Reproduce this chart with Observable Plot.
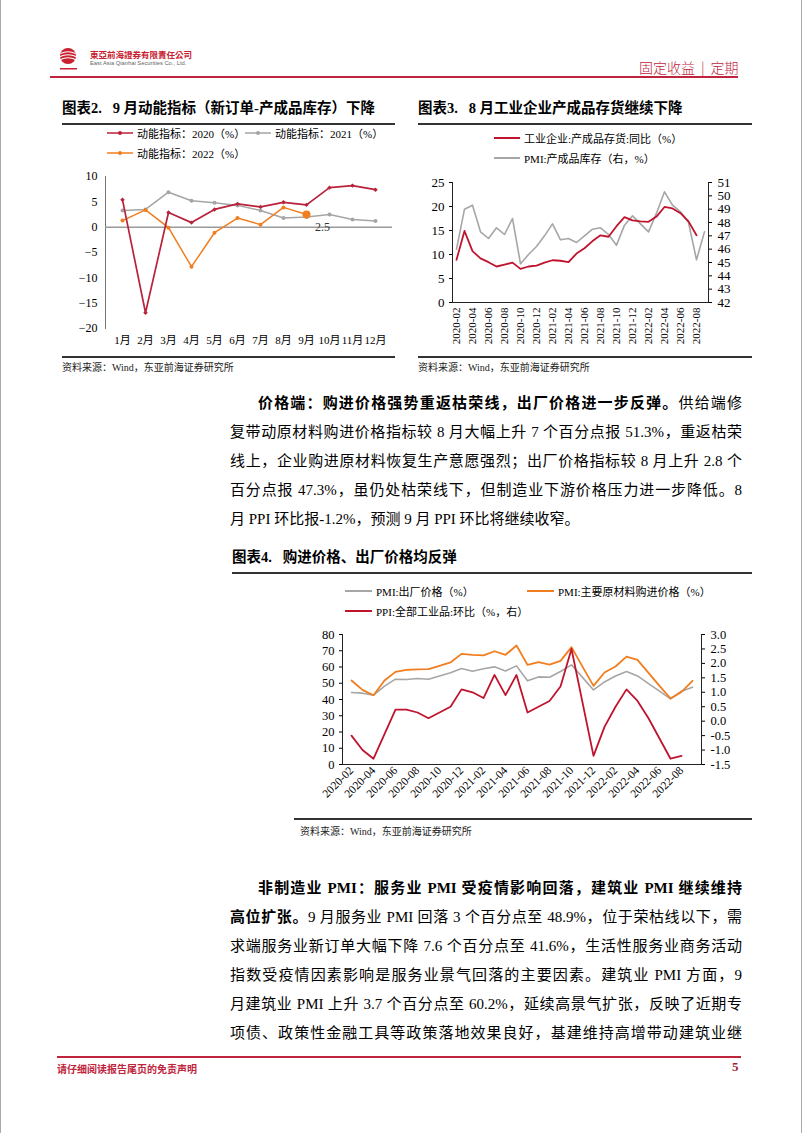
<!DOCTYPE html>
<html><head><meta charset="utf-8">
<script src="https://cdn.jsdelivr.net/npm/d3@7"></script>
<script src="https://cdn.jsdelivr.net/npm/@observablehq/plot@0.6"></script>
<style>
body{margin:0;background:#fff;}
#page{position:relative;width:802px;height:1133px;overflow:hidden;font-family:"Liberation Serif","Noto Sans CJK SC",serif;color:#000;background:#fff;}
.abs{position:absolute;}
.title{font-weight:bold;font-size:14.5px;white-space:nowrap;}
.src{font-size:10px;white-space:nowrap;color:#222;}
.leg{font-size:11px;white-space:nowrap;display:flex;align-items:center;height:14px;}
.leg svg{margin-right:3px;}
.para div{height:29px;line-height:29px;font-size:15px;text-align:justify;text-align-last:justify;}
.para div.last{text-align-last:left;}
.para b{font-weight:bold;}
.chart svg{overflow:visible;}
</style></head>
<body><div id="page">
<div class="abs" style="left:0;top:0;width:1px;height:1133px;background:#aaa"></div>
<div class="abs" style="left:801px;top:0;width:1px;height:1133px;background:#aaa"></div>
<!-- header -->
<svg class="abs" style="left:59px;top:47px" width="20" height="26" viewBox="0 0 20 26">
<circle cx="9" cy="9" r="8" fill="#c8202f"/>
<path d="M1.5 6.5 Q9 3 16.5 6.5" stroke="#fff" stroke-width="1.2" fill="none"/>
<path d="M1 9.5 Q9 6 17 9.5" stroke="#fff" stroke-width="1.2" fill="none"/>
<path d="M1.5 12.5 Q9 9 16.5 12.5" stroke="#fff" stroke-width="1.2" fill="none"/>
<rect x="1" y="21" width="17" height="1.5" fill="#c8202f"/>
</svg>
<div class="abs" style="left:90px;top:48px;font-size:8.5px;font-weight:bold;color:#c8202f;white-space:nowrap;font-family:'Noto Sans CJK TC'">東亞前海證券有限責任公司</div>
<div class="abs" style="left:90px;top:60px;font-size:5.8px;color:#666;white-space:nowrap;font-family:'Liberation Sans'">East Asia Qianhai Securities Co., Ltd.</div>
<div class="abs" style="left:639px;top:57px;font-size:14px;color:#c0243c;white-space:nowrap;font-family:'Noto Sans CJK SC';font-weight:300">固定收益<span style="margin:0 6px;color:#c0243c">|</span>定期</div>
<div class="abs" style="left:50px;top:76px;width:688px;height:1.5px;background:#c0243c"></div>

<!-- figure titles -->
<div class="abs title" style="left:62px;top:96px">图表2.&nbsp;&nbsp;&nbsp;9 月动能指标（新订单-产成品库存）下降</div>
<div class="abs" style="left:62px;top:123px;width:333px;height:1.5px;background:#333"></div>
<div class="abs title" style="left:418px;top:96px">图表3.&nbsp;&nbsp;&nbsp;8 月工业企业产成品存货继续下降</div>
<div class="abs" style="left:418px;top:123px;width:334px;height:1.5px;background:#333"></div>

<div id="c2" class="abs chart" style="left:62px;top:127px"></div>
<div id="c3" class="abs chart" style="left:418px;top:127px"></div>

<!-- legends chart 2 -->
<div class="abs leg" style="left:107px;top:126px">
<svg width="27" height="8"><line x1="0" y1="4" x2="26" y2="4" stroke="#b8223a" stroke-width="1.5"/><circle cx="13" cy="4" r="2" fill="#b8223a"/></svg>动能指标：2020（%）</div>
<div class="abs leg" style="left:245px;top:126px">
<svg width="27" height="8"><line x1="0" y1="4" x2="26" y2="4" stroke="#a5a5a5" stroke-width="1.5"/><circle cx="13" cy="4" r="2" fill="#a5a5a5"/></svg>动能指标：2021（%）</div>
<div class="abs leg" style="left:107px;top:146px">
<svg width="27" height="8"><line x1="0" y1="4" x2="26" y2="4" stroke="#f07d1e" stroke-width="1.5"/><circle cx="13" cy="4" r="2" fill="#f07d1e"/></svg>动能指标：2022（%）</div>
<!-- legends chart 3 -->
<div class="abs leg" style="left:494px;top:131px">
<svg width="27" height="8"><line x1="0" y1="4" x2="26" y2="4" stroke="#c0142e" stroke-width="2"/></svg>工业企业:产成品存货:同比（%）</div>
<div class="abs leg" style="left:494px;top:151px">
<svg width="27" height="8"><line x1="0" y1="4" x2="26" y2="4" stroke="#a6a6a6" stroke-width="2"/></svg>PMI:产成品库存（右，%）</div>

<div class="abs" style="left:62px;top:356px;width:333px;height:1.5px;background:#333"></div>
<div class="abs" style="left:418px;top:356px;width:334px;height:1.5px;background:#333"></div>
<div class="abs src" style="left:62px;top:359px">资料来源：Wind，东亚前海证券研究所</div>
<div class="abs src" style="left:418px;top:359px">资料来源：Wind，东亚前海证券研究所</div>

<div class="abs para" style="left:230px;top:389px;width:512px">
<div style="margin-left:28px"><b>价格端：购进价格强势重返枯荣线，出厂价格进一步反弹。</b>供给端修</div>
<div>复带动原材料购进价格指标较 8 月大幅上升 7 个百分点报 51.3%，重返枯荣</div>
<div>线上，企业购进原材料恢复生产意愿强烈；出厂价格指标较 8 月上升 2.8 个</div>
<div>百分点报 47.3%，虽仍处枯荣线下，但制造业下游价格压力进一步降低。8</div>
<div class="last">月 PPI 环比报-1.2%，预测 9 月 PPI 环比将继续收窄。</div>
</div>

<div class="abs title" style="left:232px;top:545px">图表4.&nbsp;&nbsp;&nbsp;购进价格、出厂价格均反弹</div>
<div class="abs" style="left:232px;top:572px;width:520px;height:1.5px;background:#333"></div>
<div id="c4" class="abs chart" style="left:232px;top:575px"></div>
<div class="abs leg" style="left:345px;top:584px">
<svg width="28" height="8"><line x1="0" y1="4" x2="27" y2="4" stroke="#a6a6a6" stroke-width="2"/></svg>PMI:出厂价格（%）</div>
<div class="abs leg" style="left:527px;top:584px">
<svg width="28" height="8"><line x1="0" y1="4" x2="27" y2="4" stroke="#f07d1e" stroke-width="2"/></svg>PMI:主要原材料购进价格（%）</div>
<div class="abs leg" style="left:345px;top:604px">
<svg width="28" height="8"><line x1="0" y1="4" x2="27" y2="4" stroke="#c0142e" stroke-width="2"/></svg>PPI:全部工业品:环比（%，右）</div>
<div class="abs" style="left:294px;top:818px;width:458px;height:1.5px;background:#333"></div>
<div class="abs src" style="left:300px;top:823px">资料来源：Wind，东亚前海证券研究所</div>

<div class="abs para" style="left:230px;top:874px;width:512px">
<div style="margin-left:28px"><b>非制造业 PMI：服务业 PMI 受疫情影响回落，建筑业 PMI 继续维持</b></div>
<div><b>高位扩张。</b>9 月服务业 PMI 回落 3 个百分点至 48.9%，位于荣枯线以下，需</div>
<div>求端服务业新订单大幅下降 7.6 个百分点至 41.6%，生活性服务业商务活动</div>
<div>指数受疫情因素影响是服务业景气回落的主要因素。建筑业 PMI 方面，9</div>
<div>月建筑业 PMI 上升 3.7 个百分点至 60.2%，延续高景气扩张，反映了近期专</div>
<div>项债、政策性金融工具等政策落地效果良好，基建维持高增带动建筑业继</div>
</div>

<div class="abs" style="left:57px;top:1056px;width:684px;height:1.5px;background:#c0243c"></div>
<div class="abs" style="left:57px;top:1061px;font-size:10px;font-weight:bold;color:#c0243c;white-space:nowrap">请仔细阅读报告尾页的免责声明</div>
<div class="abs" style="left:732px;top:1059px;font-size:13px;font-weight:bold;color:#a0232f">5</div>
</div>

<script>
// ---------- Chart 2 data ----------
const months12 = ["1月","2月","3月","4月","5月","6月","7月","8月","9月","10月","11月","12月"];
const dyn2020 = [5.4,-16.9,2.9,0.9,3.5,4.6,4.0,4.9,4.4,7.8,8.2,7.4];
const dyn2021 = [3.3,3.5,6.9,5.2,4.8,4.3,3.3,1.8,2.0,2.5,1.5,1.2];
const dyn2022 = [1.3,3.4,-0.1,-7.8,-1.1,1.8,0.5,3.9,2.5];
const yTicks2 = [-20,-15,-10,-5,0,5,10];

// ---------- Chart 3 data ----------
const invMonths = ["2020-02","2020-03","2020-04","2020-05","2020-06","2020-07","2020-08","2020-09","2020-10","2020-11","2020-12",
"2021-01","2021-02","2021-03","2021-04","2021-05","2021-06","2021-07","2021-08","2021-09","2021-10","2021-11","2021-12",
"2022-01","2022-02","2022-03","2022-04","2022-05","2022-06","2022-07","2022-08","2022-09"];
const invYoY = [8.9,14.9,10.7,9.2,8.4,7.5,7.9,8.3,7.0,7.5,7.7,8.3,8.8,8.7,8.4,10.2,11.3,12.8,14.0,13.7,15.9,17.8,17.1,16.9,16.8,17.9,19.9,19.6,18.6,16.9,14.0];
const pmiInv = [46.0,49.0,49.3,47.3,46.8,47.6,47.1,48.3,44.9,45.6,46.2,47.0,47.9,46.7,46.8,46.5,47.0,47.5,47.6,47.1,46.3,47.8,48.5,47.9,47.3,48.7,50.3,49.3,48.8,48.0,45.2,47.3];
const yTicks3L = [0,5,10,15,20,25];
const yTicks3R = [42,43,44,45,46,47,48,49,50,51];

// ---------- Chart 4 data ----------
const priceMonths = invMonths;
const pmiOut = [44.3,43.9,42.7,48.2,52.5,52.3,52.9,52.5,54.4,56.4,59.1,57.4,58.9,60.1,57.6,60.7,51.5,53.9,53.7,57.2,61.3,53.6,45.9,50.8,54.5,57.2,54.5,49.8,45.1,40.4,45.1,47.6];
const pmiIn = [51.7,45.9,42.6,51.7,57.0,58.2,58.6,58.7,60.7,62.8,68.1,67.5,67.1,69.7,67.5,73.2,61.3,63.0,61.5,63.8,72.2,60.2,48.4,56.6,60.3,66.4,64.4,56.4,48.4,40.6,44.7,51.5];
const ppiMoM = [-0.5,-1.0,-1.3,-0.45,0.4,0.4,0.3,0.1,0.3,0.5,1.1,1.0,0.8,1.6,0.9,1.6,0.3,0.5,0.7,1.2,2.5,0.65,-1.2,-0.2,0.5,1.1,0.7,0.1,-0.6,-1.3,-1.2];
const yTicks4L = [0,10,20,30,40,50,60,70,80];
const yTicks4R = [-1.5,-1.0,-0.5,0.0,0.5,1.0,1.5,2.0,2.5,3.0];

const FONT = "'Liberation Serif','Noto Sans CJK SC',serif";
const RED = "#c0142e", GRAY = "#a6a6a6", ORANGE = "#f07d1e";

// ---------- Chart 2 ----------
{
  const d20 = months12.map((m,i)=>({m, v:dyn2020[i]}));
  const d21 = months12.map((m,i)=>({m, v:dyn2021[i]}));
  const d22 = dyn2022.map((v,i)=>({m:months12[i], v}));
  const last = d22[d22.length-1];
  const p = Plot.plot({
    width:333, height:225, marginLeft:43, marginRight:3, marginTop:49, marginBottom:24,
    style:{fontFamily:FONT, fontSize:"12px", color:"#000", background:"transparent"},
    x:{type:"point", domain:months12, padding:0.5},
    y:{domain:[-20,10]},
    marks:[
      Plot.frame({anchor:"left", stroke:"#777"}),
      Plot.ruleY([0], {stroke:"#9a9a9a", strokeWidth:1.5}),
      Plot.axisY({ticks:yTicks2, tickSize:0, tickPadding:8, label:null, fontSize:12}),
      Plot.axisX({tickSize:0, tickPadding:8, label:null, fontSize:11}),
      Plot.lineY(d21, {x:"m", y:"v", stroke:"#a5a5a5", strokeWidth:1.5}),
      Plot.dot(d21, {x:"m", y:"v", fill:"#a5a5a5", r:2}),
      Plot.lineY(d22, {x:"m", y:"v", stroke:ORANGE, strokeWidth:1.5}),
      Plot.dot(d22, {x:"m", y:"v", fill:ORANGE, r:2}),
      Plot.lineY(d20, {x:"m", y:"v", stroke:"#b8223a", strokeWidth:1.7}),
      Plot.dot(d20, {x:"m", y:"v", fill:"#b8223a", r:2, symbol:"diamond2"}),
      Plot.dot([last], {x:"m", y:"v", fill:ORANGE, r:4}),
      Plot.text([last], {x:"m", y:"v", text:d=>String(d.v), dx:16, dy:13, fontSize:12, fill:"#333"})
    ]
  });
  document.getElementById("c2").appendChild(p);
}

// ---------- Chart 3 ----------
{
  const r2l = v => (v-42)*25/9;
  const d = invMonths.map((m,i)=>({m, yoy:invYoY[i], pmi:pmiInv[i]}));
  const p = Plot.plot({
    width:334, height:225, marginLeft:34, marginRight:44, marginTop:55, marginBottom:50,
    style:{fontFamily:FONT, fontSize:"13px", color:"#000", background:"transparent"},
    x:{type:"point", domain:invMonths, padding:0.5},
    y:{domain:[0,25]},
    marks:[
      Plot.frame({anchor:"left", stroke:"#222"}),
      Plot.frame({anchor:"right", stroke:"#222"}),
      Plot.frame({anchor:"bottom", stroke:"#222"}),
      Plot.axisY({ticks:yTicks3L, tickSize:3, tickPadding:5, label:null, fontSize:13}),
      Plot.axisY({anchor:"right", ticks:yTicks3R.map(r2l), tickFormat:v=>String(Math.round(v*9/25+42)), tickSize:3, tickPadding:6, label:null, fontSize:13}),
      Plot.axisX({ticks:invMonths.filter((m,i)=>i%2===0), tickRotate:-90, tickSize:0, tickPadding:5, label:null, fontSize:11}),
      Plot.lineY(d, {x:"m", y:dd=>r2l(dd.pmi), stroke:GRAY, strokeWidth:1.6}),
      Plot.lineY(d.filter(dd=>dd.yoy!=null), {x:"m", y:"yoy", stroke:RED, strokeWidth:1.8})
    ]
  });
  document.getElementById("c3").appendChild(p);
}

// ---------- Chart 4 ----------
{
  const r2l = v => (v+1.5)*80/4.5;
  const d = priceMonths.map((m,i)=>({m, out:pmiOut[i], inp:pmiIn[i], ppi:ppiMoM[i]}));
  const p = Plot.plot({
    width:520, height:245, marginLeft:110, marginRight:51, marginTop:59, marginBottom:56,
    style:{fontFamily:FONT, fontSize:"12.5px", color:"#000", background:"transparent"},
    x:{type:"point", domain:priceMonths, padding:0},
    y:{domain:[0,80]},
    marks:[
      Plot.frame({anchor:"left", stroke:"#222"}),
      Plot.frame({anchor:"right", stroke:"#222"}),
      Plot.frame({anchor:"bottom", stroke:"#222"}),
      Plot.axisY({ticks:yTicks4L, tickSize:3, tickPadding:5, label:null, fontSize:12.5}),
      Plot.axisY({anchor:"right", ticks:yTicks4R.map(r2l), tickFormat:v=>(Math.round((v*4.5/80-1.5)*10)/10).toFixed(1), tickSize:3, tickPadding:6, label:null, fontSize:12.5}),
      Plot.axisX({ticks:priceMonths.filter((m,i)=>i%2===0 && i<31), tickRotate:-45, tickSize:0, tickPadding:4, label:null, fontSize:11.5}),
      Plot.lineY(d, {x:"m", y:"out", stroke:GRAY, strokeWidth:1.6}),
      Plot.lineY(d, {x:"m", y:"inp", stroke:ORANGE, strokeWidth:1.8}),
      Plot.lineY(d.filter(dd=>dd.ppi!=null), {x:"m", y:dd=>r2l(dd.ppi), stroke:RED, strokeWidth:1.8})
    ]
  });
  document.getElementById("c4").appendChild(p);
}
</script>
</body></html>
